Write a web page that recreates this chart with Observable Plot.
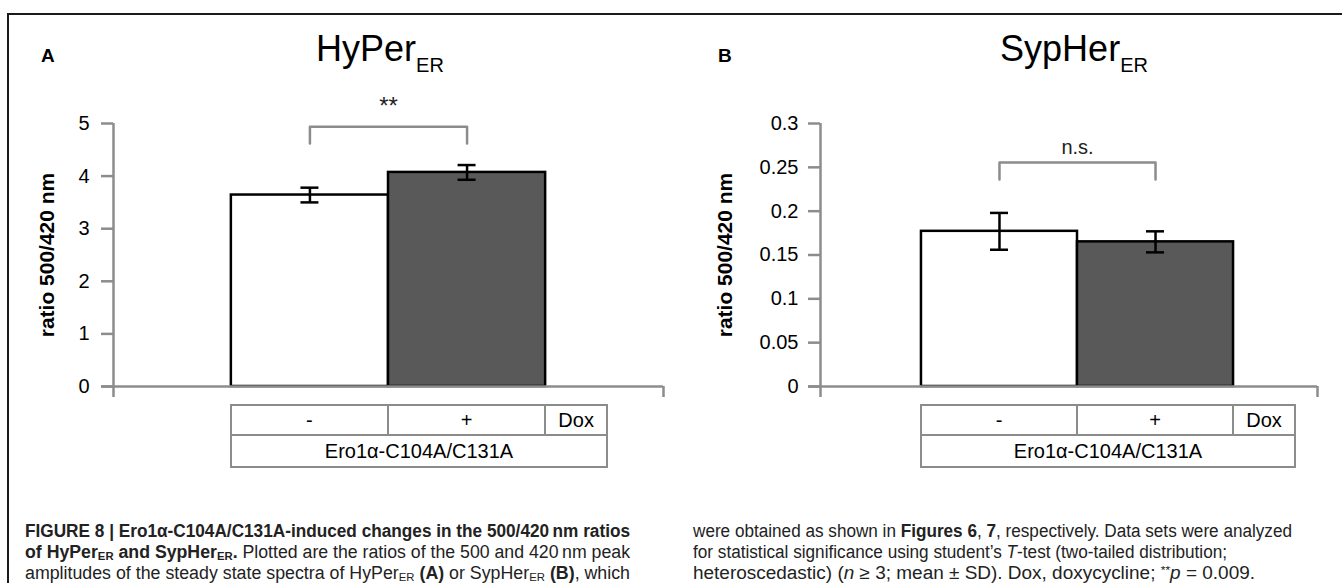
<!DOCTYPE html>
<html>
<head>
<meta charset="utf-8">
<script src="https://cdn.jsdelivr.net/npm/d3@7"></script>
<script src="https://cdn.jsdelivr.net/npm/@observablehq/plot@0.6"></script>
<style>
  html, body { margin: 0; padding: 0; background: #fff; }
  #fig { position: relative; width: 1342px; height: 583px; overflow: hidden; background: #fff;
         font-family: "Liberation Sans", Arial, sans-serif; color: #000; }
  #frame { position: absolute; left: 7px; top: 13px; width: 1400px; height: 700px;
           border-left: 2px solid #1a1a1a; border-top: 2px solid #1a1a1a; }
  .panel { position: absolute; top: 0; }
  .plabel { position: absolute; font-weight: bold; font-size: 19px; line-height: 19px; }
  .title { position: absolute; font-size: 36px; line-height: 36px; white-space: nowrap; transform: translateX(-50%); }
  .title sub { font-size: 20px; vertical-align: baseline; position: relative; top: 11px; }
  .cell { position: absolute; box-sizing: border-box; border: 2.5px solid #8c8c8c; display: flex;
          align-items: center; justify-content: center; font-size: 20px; background: #fff; }
  .cap { position: absolute; white-space: nowrap; width: max-content;
         font-family: "Liberation Sans Narrow", "Liberation Sans", Arial, sans-serif;
         font-size: 18px; line-height: 21px; color: #222; transform-origin: 0 0; }
  .cap sub { font-size: 11.5px; vertical-align: -2px; line-height: 0; }
  .cap sup { font-size: 11.5px; vertical-align: 5px; line-height: 0; }
</style>
</head>
<body>
<div id="fig">
  <div id="frame"></div>
</div>
<script>
// ---------------- data ----------------
const conditions = ["-", "+"];
const hyperRatio = [3.64, 4.07];
const hyperSD = [0.14, 0.14];
const sypherRatio = [0.177, 0.165];
const sypherSD = [0.021, 0.012];
const hyperTicks = [0, 1, 2, 3, 4, 5];
const sypherTicks = [0, 0.05, 0.1, 0.15, 0.2, 0.25, 0.3];
const hyperSignif = ["**"];
const sypherSignif = ["n.s."];
const hyperBracket = [4.94, 4.62];      // bracket top, leg end (data units)
const sypherBracket = [0.2555, 0.236];
const tableRow = ["-", "+", "Dox"];
const groupLabel = "Ero1\u03b1-C104A/C131A";
const yLabel = "ratio 500/420 nm";
const panelLetters = ["A", "B"];
const titleMain = ["HyPer", "SypHer"];
const titleSub = ["ER", "ER"];

// ---------------- style / layout ----------------
const AX = "#8c8c8c";
const BAR_FILLS = ["#ffffff", "#595959"];
const layouts = [
  {left: 0, width: 671, height: 400, mt: 123, mb: 14, ml: 113, mr: 8, xDomain: [-0.75, 2.75],
   yMax: 5, tickPadding: 12, labelDx: -66, sigDy: -20, sigSize: 24, letterX: 41, titleX: 380, doxW: 62},
  {left: 671, width: 671, height: 400, mt: 123, mb: 14, ml: 149, mr: 25, xDomain: [-0.647, 2.538],
   yMax: 0.3, tickPadding: 10, labelDx: -95, sigDy: -15, sigSize: 20, letterX: 718, titleX: 1074, doxW: 62}
];
const datasets = [
  {values: hyperRatio, sds: hyperSD, ticks: hyperTicks, bracket: hyperBracket, signif: hyperSignif},
  {values: sypherRatio, sds: sypherSD, ticks: sypherTicks, bracket: sypherBracket, signif: sypherSignif}
];

const fig = document.getElementById("fig");

function makePanel(ds, L) {
  const rows = conditions.map((c, i) => ({cond: c, i, value: ds.values[i], sd: ds.sds[i]}));
  const ctr = d => d.i + 0.5;
  const bk = [
    {x: 0.5, y: ds.bracket[1]}, {x: 0.5, y: ds.bracket[0]},
    {x: 1.5, y: ds.bracket[0]}, {x: 1.5, y: ds.bracket[1]}
  ];
  return Plot.plot({
    width: L.width, height: L.height,
    marginTop: L.mt, marginBottom: L.mb, marginLeft: L.ml, marginRight: L.mr,
    x: {domain: L.xDomain},
    y: {domain: [0, L.yMax]},
    color: {domain: conditions, range: BAR_FILLS},
    style: {background: "none", overflow: "visible", color: "#000",
            fontFamily: "'Liberation Sans', Arial, sans-serif", fontSize: "20px"},
    marks: [
      Plot.rectY(rows, {x1: "i", x2: d => d.i + 1, y: "value", fill: "cond", stroke: "#000", strokeWidth: 2.5}),
      Plot.ruleX(rows, {x: ctr, y1: d => d.value - d.sd, y2: d => d.value + d.sd, stroke: "#000", strokeWidth: 2.5}),
      Plot.ruleY(rows, {x1: ctr, x2: ctr, y: d => d.value + d.sd, insetLeft: -9, insetRight: -9, stroke: "#000", strokeWidth: 2.5}),
      Plot.ruleY(rows, {x1: ctr, x2: ctr, y: d => d.value - d.sd, insetLeft: -9, insetRight: -9, stroke: "#000", strokeWidth: 2.5}),
      Plot.ruleY([0], {stroke: AX, strokeWidth: 2.5, insetLeft: -12}),
      Plot.ruleX([L.xDomain[0]], {stroke: AX, strokeWidth: 2.5}),
      Plot.axisY({ticks: ds.ticks, tickSize: 12, tickPadding: L.tickPadding, stroke: AX, strokeWidth: 2.5,
                  fill: "#000", fontSize: 20, label: null, tickFormat: d => String(d)}),
      Plot.axisX({ticks: L.xDomain, tickSize: 11, tickFormat: () => "", stroke: AX, strokeWidth: 2.5, label: null}),
      Plot.line(bk, {x: "x", y: "y", stroke: AX, strokeWidth: 2.5}),
      Plot.text(ds.signif, {x: () => 1, y: () => ds.bracket[0], text: d => d, dy: L.sigDy, fontSize: L.sigSize, fill: "#222"}),
      Plot.text([yLabel], {text: d => d, frameAnchor: "left", textAnchor: "middle", rotate: -90, dx: L.labelDx,
                           fontWeight: "bold", fontSize: 21, fill: "#000"})
    ]
  });
}

layouts.forEach((L, k) => {
  const ds = datasets[k];
  const chart = makePanel(ds, L);
  const wrap = document.createElement("div");
  wrap.className = "panel";
  wrap.style.left = L.left + "px";
  wrap.appendChild(chart);
  fig.appendChild(wrap);

  const letter = document.createElement("div");
  letter.className = "plabel";
  letter.style.left = L.letterX + "px";
  letter.style.top = "46px";
  letter.textContent = panelLetters[k];
  fig.appendChild(letter);

  const t = document.createElement("div");
  t.className = "title";
  t.style.left = L.titleX + "px";
  t.style.top = "31px";
  t.innerHTML = titleMain[k] + "<sub>" + titleSub[k] + "</sub>";
  fig.appendChild(t);

  // data table under the axis, aligned with the x scale
  let sx;
  try { sx = chart.scale("x"); } catch (e) { sx = null; }
  const x = v => {
    if (sx && sx.apply) return L.left + sx.apply(v);
    const [d0, d1] = L.xDomain;
    return L.left + L.ml + (v - d0) / (d1 - d0) * (L.width - L.ml - L.mr);
  };
  const edges = [x(0), x(1), x(2)];
  edges.push(edges[2] + L.doxW);
  const top1 = 405, top2 = 435, bot = 467, b = 1.25;
  tableRow.forEach((lab, j) => {
    const c = document.createElement("div");
    c.className = "cell";
    c.style.left = (edges[j] - b) + "px";
    c.style.width = (edges[j + 1] - edges[j] + 2 * b) + "px";
    c.style.top = (top1 - b) + "px";
    c.style.height = (top2 - top1 + 2 * b) + "px";
    c.textContent = lab;
    fig.appendChild(c);
  });
  const g = document.createElement("div");
  g.className = "cell";
  g.style.left = (edges[0] - b) + "px";
  g.style.width = (edges[3] - edges[0] + 2 * b) + "px";
  g.style.top = (top2 - b) + "px";
  g.style.height = (bot - top2 + 2 * b) + "px";
  g.textContent = groupLabel;
  fig.appendChild(g);
});

// ---------------- caption ----------------
const capLines = [
  {x: 25, y: 521, w: 605, html: "<b>FIGURE 8 | Ero1\u03b1-C104A/C131A-induced changes in the 500/420\u2009nm ratios</b>"},
  {x: 25, y: 542, w: 605, html: "<b>of HyPer<sub>ER</sub> and SypHer<sub>ER</sub>.</b> Plotted are the ratios of the 500 and 420\u2009nm peak"},
  {x: 25, y: 563, w: 605, html: "amplitudes of the steady state spectra of HyPer<sub>ER</sub> <b>(A)</b> or SypHer<sub>ER</sub> <b>(B)</b>, which"},
  {x: 693, y: 521, w: 599, html: "were obtained as shown in <b>Figures 6</b>, <b>7</b>, respectively. Data sets were analyzed"},
  {x: 693, y: 542, w: 534, html: "for statistical significance using student\u2019s <i>T</i>-test (two-tailed distribution;"},
  {x: 693, y: 563, w: 562, html: "heteroscedastic) (<i>n</i> \u2265 3; mean \u00b1 SD). Dox, doxycycline; <sup>**</sup><i>p</i> = 0.009."}
];
capLines.forEach(l => {
  const el = document.createElement("div");
  el.className = "cap";
  el.style.left = l.x + "px";
  el.style.top = l.y + "px";
  el.innerHTML = l.html;
  fig.appendChild(el);
  const w = el.getBoundingClientRect().width;
  el.style.transform = `scaleX(${l.w / w})`;
});
</script>
</body>
</html>
